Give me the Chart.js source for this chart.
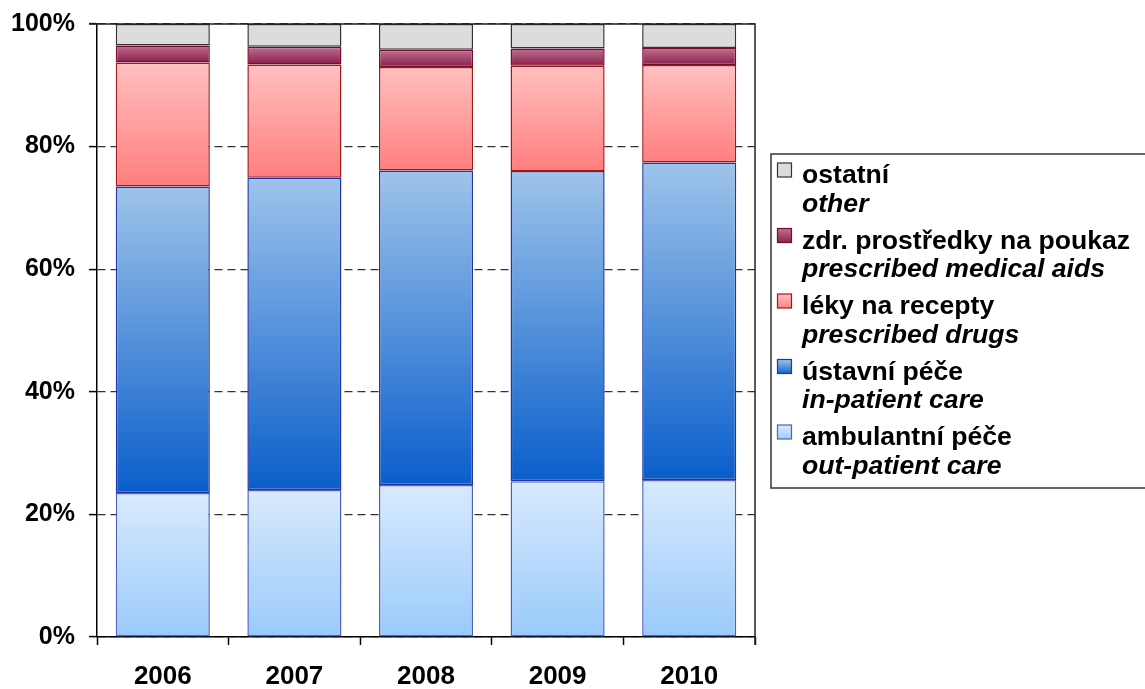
<!DOCTYPE html>
<html>
<head>
<meta charset="utf-8">
<script src="https://cdn.jsdelivr.net/npm/chart.js@4/dist/chart.umd.min.js"></script>
<style>
  body { margin: 0; background: #fff; }
  #wrap { width: 1145px; height: 689px; }
</style>
</head>
<body>
<div id="wrap"><canvas id="chart" width="1145" height="689"></canvas></div>
<script>
// categories and shares (in %) of each spending type, bottom to top
const years = ['2006', '2007', '2008', '2009', '2010'];
const outPatient   = [23.5, 24.0, 24.8, 25.4, 25.6];
const inPatient    = [50.0, 50.9, 51.3, 50.6, 51.8];
const drugs        = [20.2, 18.5, 16.9, 17.2, 15.9];
const medicalAids  = [2.8, 2.9, 2.8, 2.8, 2.8];
const other        = [3.5, 3.7, 4.2, 4.0, 3.9];

const namesCz = ['ambulantní péče', 'ústavní péče', 'léky na recepty', 'zdr. prostředky na poukaz', 'ostatní'];
const namesEn = ['out-patient care', 'in-patient care', 'prescribed drugs', 'prescribed medical aids', 'other'];

// [top colour, bottom colour, border]
const looks = [
  ['#d8eafd', '#9acafb', '#5060bc'],
  ['#9ec4ea', '#0a5ecb', '#2434a4'],
  ['#ffc0c0', '#ff7e7e', '#a01818'],
  ['#bc7294', '#8c1c4a', '#7a0a2a'],
  ['#dcdcdc', '#dcdcdc', '#333333']
];

const FONT = '"Liberation Sans", Arial, sans-serif';

function gradientFill(idx) {
  return (ctx) => {
    const chart = ctx.chart;
    const [c1, c2] = looks[idx];
    if (ctx.type !== 'data' || !chart.chartArea) return c2;
    const y = chart.scales.y;
    let base = 0;
    for (let d = 0; d < ctx.datasetIndex; d++) base += chart.data.datasets[d].data[ctx.dataIndex];
    const top = base + chart.data.datasets[ctx.datasetIndex].data[ctx.dataIndex];
    const g = chart.ctx.createLinearGradient(0, y.getPixelForValue(top), 0, y.getPixelForValue(base));
    g.addColorStop(0, c1);
    g.addColorStop(1, c2);
    return g;
  };
}

const seriesValues = [outPatient, inPatient, drugs, medicalAids, other];

// top and right frame of the plot area
const frame = {
  id: 'frame',
  afterDatasetsDraw(chart) {
    const { ctx, chartArea: a } = chart;
    ctx.save();
    ctx.strokeStyle = '#222';
    ctx.lineWidth = 1.5;
    ctx.beginPath();
    ctx.moveTo(a.left - 8, a.top);
    ctx.lineTo(a.right, a.top);
    ctx.lineTo(a.right, a.bottom + 8);
    ctx.stroke();
    ctx.restore();
  }
};

// two-language legend in a box on the right
const boxLegend = {
  id: 'boxLegend',
  afterDraw(chart) {
    const ctx = chart.ctx;
    ctx.save();
    ctx.strokeStyle = '#333';
    ctx.lineWidth = 1.5;
    ctx.strokeRect(771, 154, 400, 334);
    const order = [4, 3, 2, 1, 0];
    order.forEach((s, k) => {
      const base = 183 + k * 65.5;
      const [c1, c2, b] = looks[s];
      const g = ctx.createLinearGradient(0, base - 20, 0, base - 5);
      g.addColorStop(0, c1);
      g.addColorStop(1, c2);
      ctx.fillStyle = g;
      ctx.fillRect(777.5, base - 20, 14, 14);
      ctx.strokeStyle = s === 4 ? '#333' : b;
      ctx.lineWidth = 1.2;
      ctx.strokeRect(777.5, base - 20, 14, 14);
      ctx.fillStyle = '#000';
      ctx.textBaseline = 'alphabetic';
      ctx.textAlign = 'left';
      ctx.font = 'bold 26.6px ' + FONT;
      ctx.fillText(namesCz[s], 802, base);
      ctx.font = 'italic bold 26.6px ' + FONT;
      ctx.fillText(namesEn[s], 802, base + 28.5);
    });
    ctx.restore();
  }
};

new Chart(document.getElementById('chart'), {
  type: 'bar',
  data: {
    labels: years,
    datasets: seriesValues.map((vals, i) => ({
      label: namesCz[i],
      data: vals,
      backgroundColor: gradientFill(i),
      borderColor: looks[i][2],
      borderWidth: 1.5,
      borderSkipped: false,
      barPercentage: 0.715,
      categoryPercentage: 1
    }))
  },
  options: {
    responsive: false,
    animation: false,
    layout: { padding: { left: 0, top: 24, right: 390, bottom: 0 } },
    plugins: { legend: { display: false }, tooltip: { enabled: false } },
    scales: {
      x: {
        stacked: true,
        afterFit(scale) { scale.height = 52; scale.paddingLeft = 0; scale.paddingRight = 0; },
        grid: { offset: true, drawOnChartArea: false, tickLength: 8, tickColor: '#000', tickWidth: 1.5 },
        border: { color: '#000', width: 1.5 },
        ticks: { color: '#000', padding: 16, font: { family: FONT, size: 26, weight: 'bold' } }
      },
      y: {
        stacked: true,
        min: 0,
        max: 100,
        afterFit(scale) { scale.width = 97; scale.paddingTop = 0; scale.paddingBottom = 0; },
        grid: { color: '#333', lineWidth: 1.2, tickLength: 8, tickColor: '#000', tickWidth: 1.5 },
        border: { color: '#000', width: 1.5, dash: [8, 5] },
        ticks: {
          stepSize: 20,
          color: '#000',
          padding: 14,
          font: { family: FONT, size: 25, weight: 'bold' },
          callback: (v) => v + '%'
        }
      }
    }
  },
  plugins: [frame, boxLegend]
});
</script>
</body>
</html>
